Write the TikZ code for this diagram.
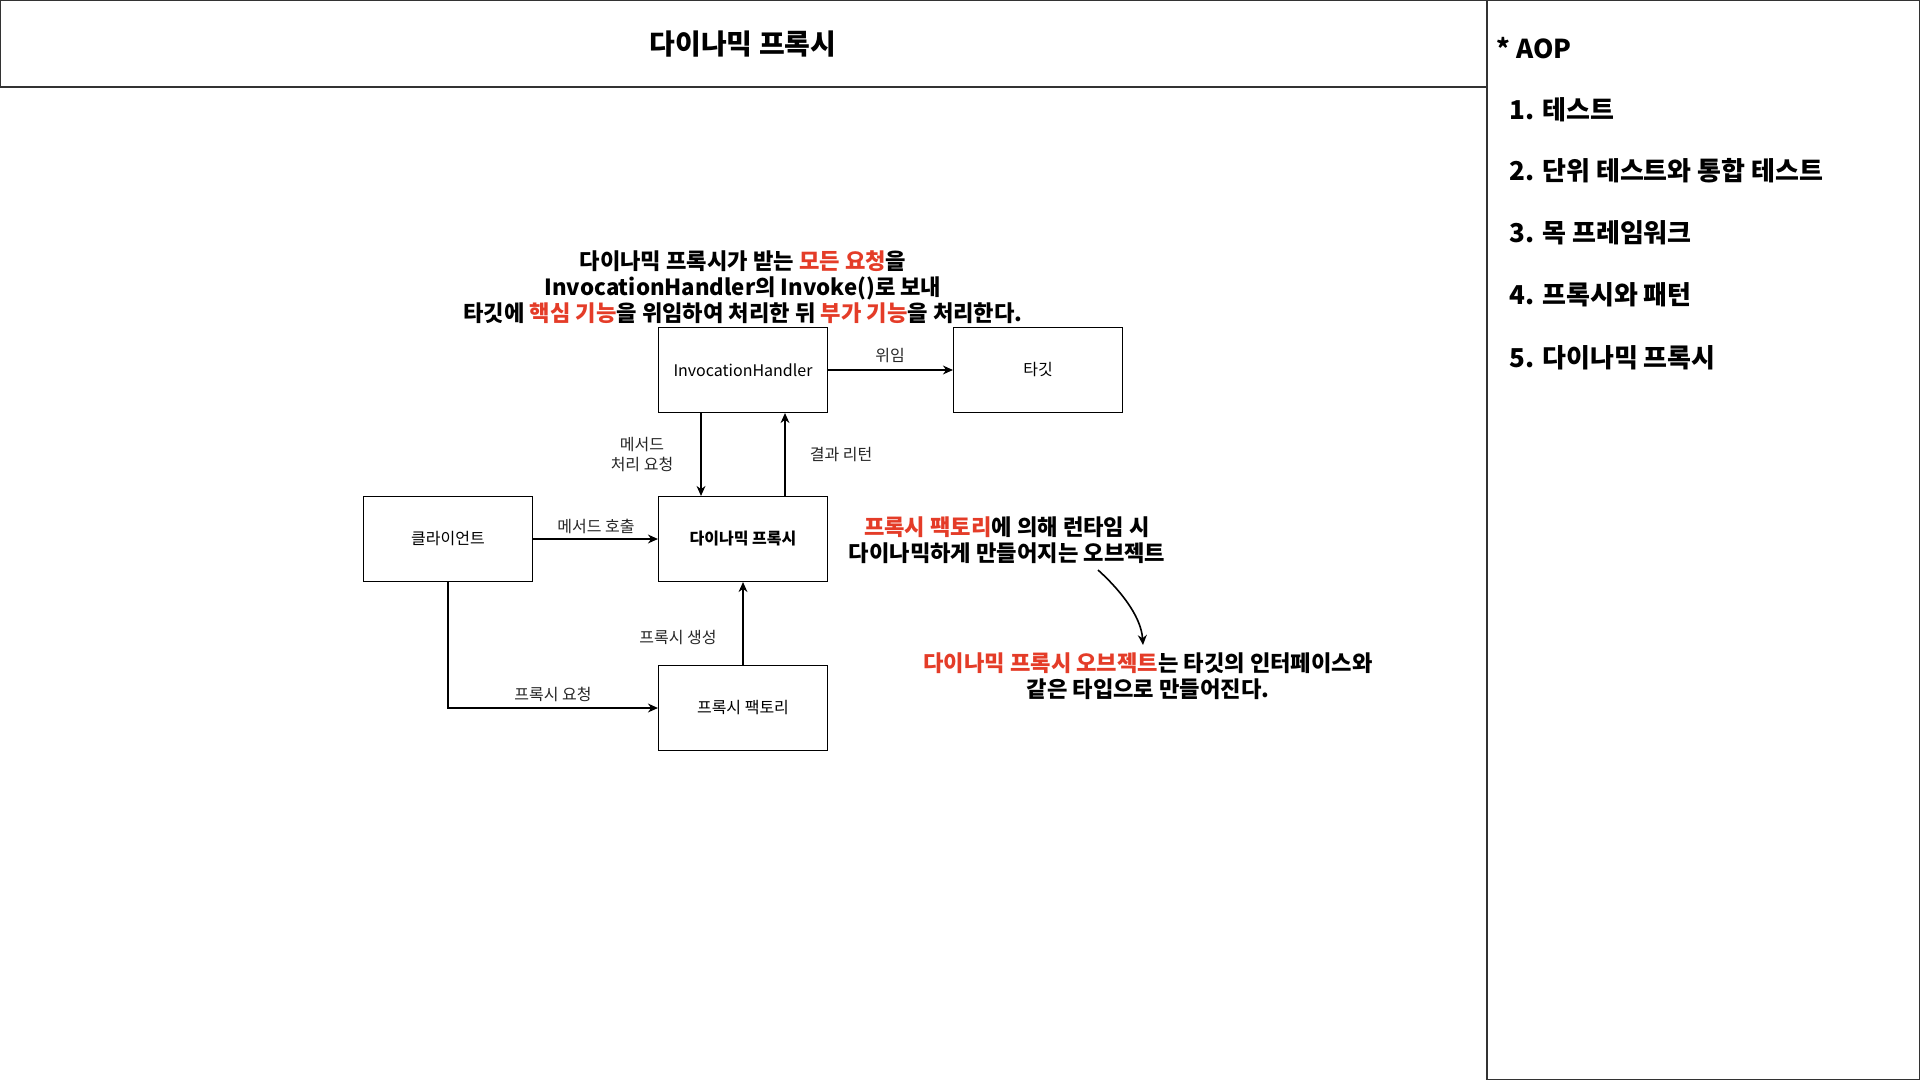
\documentclass[tikz,border=0pt]{standalone}
\usepackage{fontspec}
\setmainfont{Noto Sans CJK KR}
\usetikzlibrary{arrows.meta, positioning}

\definecolor{hilite}{RGB}{228,60,40}
\newcommand{\hl}[1]{\textcolor{hilite}{#1}}

\begin{document}
\begin{tikzpicture}[
    x=0.5pt, y=-0.5pt,
    box/.style={rectangle, draw=black, line width=0.6pt, minimum width=84.5pt, minimum height=42.5pt, inner sep=0pt, font=\fontsize{8}{10}\selectfont},
    lbl/.style={font=\fontsize{8}{10}\selectfont, text=black!85, align=center, inner sep=1pt},
    note/.style={font=\fontsize{11.1}{12.9}\selectfont\bfseries, align=center, inner sep=0pt},
    item/.style={font=\fontsize{13}{15}\selectfont\bfseries, anchor=west, inner sep=0pt},
    conn/.style={-{Stealth[length=5pt,width=4.5pt]}, line width=0.6pt}
]
\useasboundingbox (0,0) rectangle (1920,1080);

% frame: title bar and side panel
\draw[line width=0.7pt, black!80] (0.7,0.7) rectangle (1487,87);
\draw[line width=0.7pt, black!80] (1487,0.7) rectangle (1919.3,1079.3);
\node[font=\fontsize{14}{16}\selectfont\bfseries] (title) at (743,44) {다이나믹 프록시};

% side panel list
\node[item] (aop) at (1496,48) {* AOP};
\node[item] (sec1) at (1509,110) {1. 테스트};
\node[item] (sec2) at (1509,171) {2. 단위 테스트와 통합 테스트};
\node[item] (sec3) at (1509,233) {3. 목 프레임워크};
\node[item] (sec4) at (1509,295) {4. 프록시와 패턴};
\node[item] (sec5) at (1509,358) {5. 다이나믹 프록시};

% boxes
\node[box] (handler) at (743,370) {InvocationHandler};
\node[box] (target) at (1038,370) {타깃};
\node[box] (client) at (448,539) {클라이언트};
\node[box, font=\fontsize{8}{10}\selectfont\bfseries] (proxy) at (743,539) {다이나믹 프록시};
\node[box] (factory) at (743,708) {프록시 팩토리};

% connectors
\draw[conn] (handler) -- (target);
\draw[conn] ([xshift=-21pt]handler.south) -- ([xshift=-21pt]proxy.north);
\draw[conn] ([xshift=21pt]proxy.north) -- ([xshift=21pt]handler.south);
\draw[conn] (client) -- (proxy);
\draw[conn] (factory) -- (proxy);
\draw[conn] (client.south) |- (factory.west);

% connector labels
\node[lbl] (delegatelbl) at (890,356) {위임};
\node[lbl] (calllbl) at (642,455) {메서드\\처리 요청};
\node[lbl] (returnlbl) at (841,455) {결과 리턴};
\node[lbl] (invokelbl) at (596,526) {메서드 호출};
\node[lbl] (createlbl) at (678,638) {프록시 생성};
\node[lbl] (requestlbl) at (553,694) {프록시 요청};

% notes
\node[note] (handlernote) at (743,287) {다이나믹 프록시가 받는 \hl{모든 요청}을\\InvocationHandler의 Invoke()로 보내\\타깃에 \hl{핵심 기능}을 위임하여 처리한 뒤 \hl{부가 기능}을 처리한다.};
\node[note] (runtimenote) at (1007,540) {\hl{프록시 팩토리}에 의해 런타임 시\\다이나믹하게 만들어지는 오브젝트};
\node[note] (typenote) at (1148,676) {\hl{다이나믹 프록시 오브젝트}는 타깃의 인터페이스와\\같은 타입으로 만들어진다.};

\coordinate (curvestart) at (1098,570);
\coordinate (curveend) at (1143,645);
\draw[conn, line width=0.8pt] (curvestart) .. controls (1118,588) and (1141,615) .. (curveend);
\end{tikzpicture}
\end{document}
